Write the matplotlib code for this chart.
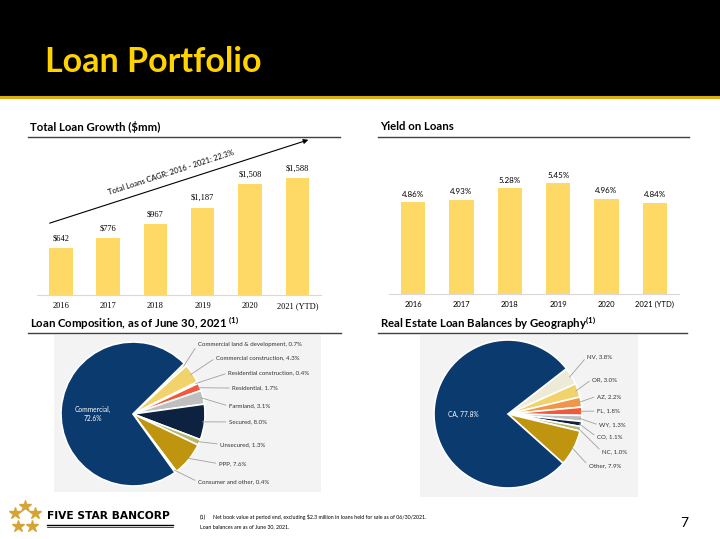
import math
import matplotlib.pyplot as plt
from matplotlib.patches import Rectangle, FancyArrowPatch
from matplotlib.lines import Line2D

W, H = 720, 539

# ---- data ----
years = ['2016', '2017', '2018', '2019', '2020', '2021 (YTD)']
total_loans = [642, 776, 967, 1187, 1508, 1588]
loan_yield = [4.86, 4.93, 5.28, 5.45, 4.96, 4.84]

comp_labels = ['Commercial land & development', 'Commercial construction',
               'Residential construction', 'Residential', 'Farmland',
               'Secured', 'Unsecured', 'PPP', 'Consumer and other', 'Commercial']
comp_values = [0.7, 4.3, 0.4, 1.7, 3.1, 8.0, 1.3, 7.6, 0.4, 72.6]
comp_colors = ['#EDEBD7', '#F2D26B', '#F7E3A6', '#F05A3A', '#BFBFBF',
               '#0D2240', '#B8B86E', '#BF9510', '#E6D9A8', '#0B3A6E']

geo_labels = ['NV', 'OR', 'AZ', 'FL', 'WY', 'CO', 'NC', 'Other', 'CA']
geo_values = [3.8, 3.0, 2.2, 1.8, 1.3, 1.1, 1.0, 7.9, 77.8]
geo_colors = ['#EDEBD7', '#F2D26B', '#F0964A', '#F05A3A', '#BFBFBF',
              '#0D2240', '#B8B86E', '#BF9510', '#0B3A6E']

# label positions (pie radius units) for the small slices
comp_label_pos = [(0.90, 0.97), (1.15, 0.78), (1.32, 0.57), (1.375, 0.36),
                  (1.33, 0.11), (1.33, -0.11), (1.21, -0.42), (1.19, -0.69),
                  (0.90, -0.94)]
geo_label_pos = [(1.07, 0.78), (1.135, 0.47), (1.20, 0.24), (1.20, 0.04),
                 (1.23, -0.15), (1.20, -0.31), (1.27, -0.51), (1.09, -0.70)]

SANS = 'Lato'
SERIF = 'Liberation Serif'
BAR = '#FFD966'
plt.rcParams['font.family'] = SANS


def box(x0, y0, x1, y1):
    return [x0 / W, 1 - y1 / H, (x1 - x0) / W, (y1 - y0) / H]


def fx(x):
    return x / W


def fy(y):
    return 1 - y / H


fig = plt.figure(figsize=(7.2, 5.39), dpi=100)
fig.patch.set_facecolor('white')

# header
fig.patches.append(Rectangle((0, fy(95)), 1, 95 / H, transform=fig.transFigure,
                             color='black', zorder=-2))
fig.lines.append(Line2D([0, 1], [fy(97), fy(97)], transform=fig.transFigure,
                        color='#D9AE12', lw=2.2))
fig.text(fx(45), fy(62), 'Loan Portfolio', color='#FFD200', fontsize=24.5,
         fontweight='bold', va='center', ha='left')


# section headers
def section(x0, x1, y, title):
    fig.text(fx(x0 + 2), fy(y - 10), title, fontsize=8.2, fontweight='bold',
             va='center', ha='left', color='black')
    fig.lines.append(Line2D([fx(x0), fx(x1)], [fy(y), fy(y)],
                            transform=fig.transFigure, color='#404040', lw=1))


section(28, 340, 137, 'Total Loan Growth ($mm)')
section(378, 689, 137, 'Yield on Loans')
section(28, 341, 333, r'Loan Composition, as of June 30, 2021 $^{\mathregular{(1)}}$')
section(378, 687, 333, r'Real Estate Loan Balances by Geography$^{\mathregular{(1)}}$')


def style_bar_axes(ax):
    for s in ['top', 'right', 'left']:
        ax.spines[s].set_visible(False)
    ax.spines['bottom'].set_color('#D9D9D9')
    ax.set_yticks([])
    ax.tick_params(axis='x', length=0, pad=5)
    ax.set_facecolor('none')


# total loan growth
ax1 = fig.add_axes(box(37, 140, 321, 295))
x = range(len(years))
bars = ax1.bar(x, total_loans, width=0.5, color=BAR)
ax1.set_xlim(-0.5, 5.5)
ax1.set_ylim(0, 2104)
style_bar_axes(ax1)
ax1.set_xticks(list(x))
ax1.set_xticklabels(years, fontsize=6, family=SERIF)
for b, v in zip(bars, total_loans):
    ax1.annotate(f'${v:,}', (b.get_x() + b.get_width() / 2, b.get_height()),
                 xytext=(0, 4), textcoords='offset points', ha='center',
                 va='bottom', fontsize=6, family=SERIF)

fig.patches.append(FancyArrowPatch(
    (fx(47), fy(224)), (fx(311), fy(139)), transform=fig.transFigure,
    arrowstyle='-|>', mutation_scale=7, color='black', lw=0.8))
fig.text(fx(171), fy(172), 'Total Loans CAGR: 2016 - 2021: 22.3%', fontsize=5.5,
         rotation=17.8, rotation_mode='anchor', ha='center', va='center')

# yield on loans
ax2 = fig.add_axes(box(389, 140, 679, 294))
bars = ax2.bar(x, loan_yield, width=0.5, color=BAR)
ax2.set_xlim(-0.5, 5.5)
ax2.set_ylim(2.0, 6.78)
style_bar_axes(ax2)
ax2.set_xticks(list(x))
ax2.set_xticklabels(years, fontsize=5.5)
for b, v in zip(bars, loan_yield):
    ax2.annotate(f'{v:.2f}%', (b.get_x() + b.get_width() / 2, b.get_height()),
                 xytext=(0, 3), textcoords='offset points', ha='center',
                 va='bottom', fontsize=5.8)


def pie_panel(panel, center, R, values, colors, labels, label_pos,
              big_label, big_xy, start):
    x0, y0, x1, y1 = panel
    cx, cy = center
    ax = fig.add_axes(box(*panel))
    wedges, _ = ax.pie(values, colors=colors, startangle=start,
                       counterclock=False,
                       wedgeprops=dict(edgecolor='white', linewidth=1.2))
    ax.set_xlim((x0 - cx) / R, (x1 - cx) / R)
    ax.set_ylim((cy - y1) / R, (cy - y0) / R)
    ax.set_frame_on(True)
    for s in ax.spines.values():
        s.set_visible(False)
    ax.set_facecolor('#F3F3F3')
    ax.set_xticks([])
    ax.set_yticks([])
    for w, lab, v, pos in zip(wedges, labels, values, label_pos):
        mid = math.radians((w.theta1 + w.theta2) / 2)
        ax.annotate(f'{lab}, {v:.1f}%', (0.97 * math.cos(mid), 0.97 * math.sin(mid)),
                    xytext=pos, ha='left', va='center', fontsize=4.4,
                    color='#333333',
                    arrowprops=dict(arrowstyle='-', color='#A0A0A0', lw=0.6,
                                    shrinkA=0, shrinkB=0, relpos=(0, 0.5)))
    ax.text(big_xy[0], big_xy[1], big_label, color='white', fontsize=4.8,
            ha='center', va='center')
    return ax


pie_panel((54, 335, 321, 492), (133, 414), 72, comp_values, comp_colors,
          comp_labels[:-1], comp_label_pos,
          f'{comp_labels[-1]},\n{comp_values[-1]:.1f}%', (-0.56, 0.0), 44.6)
pie_panel((420, 335, 638, 497), (508, 414), 74, geo_values, geo_colors,
          geo_labels[:-1], geo_label_pos,
          f'{geo_labels[-1]}, {geo_values[-1]:.1f}%', (-0.61, 0.0), 37.8)

# footer logo
star_x = [25, 15, 35, 18, 32]
star_y = [506, 513, 513, 526, 526]
fig.lines.append(Line2D([fx(v) for v in star_x], [fy(v) for v in star_y],
                        transform=fig.transFigure, ls='none', marker='*',
                        markersize=9, color='#D4A437', mec='#D4A437'))
fig.text(fx(47), fy(516), 'FIVE STAR BANCORP', fontsize=7.7,
         fontweight='bold', family='DejaVu Sans', ha='left', va='center')
fig.lines.append(Line2D([fx(47), fx(173)], [fy(525), fy(525)],
                        transform=fig.transFigure, color='black', lw=1.0))
fig.lines.append(Line2D([fx(47), fx(173)], [fy(527), fy(527)],
                        transform=fig.transFigure, color='black', lw=0.5))

fig.text(fx(200), fy(517), '(1)', fontsize=3.8, ha='left', va='center')
fig.text(fx(213), fy(517),
         'Net book value at period end, excluding $2.3 million in loans held for sale as of 06/30/2021.',
         fontsize=3.8, ha='left', va='center')
fig.text(fx(200), fy(527), 'Loan balances are as of June 30, 2021.', fontsize=3.8,
         ha='left', va='center')
fig.text(fx(684), fy(523), '7', fontsize=10, ha='center', va='center')

fig.savefig('out.png', dpi=100)
